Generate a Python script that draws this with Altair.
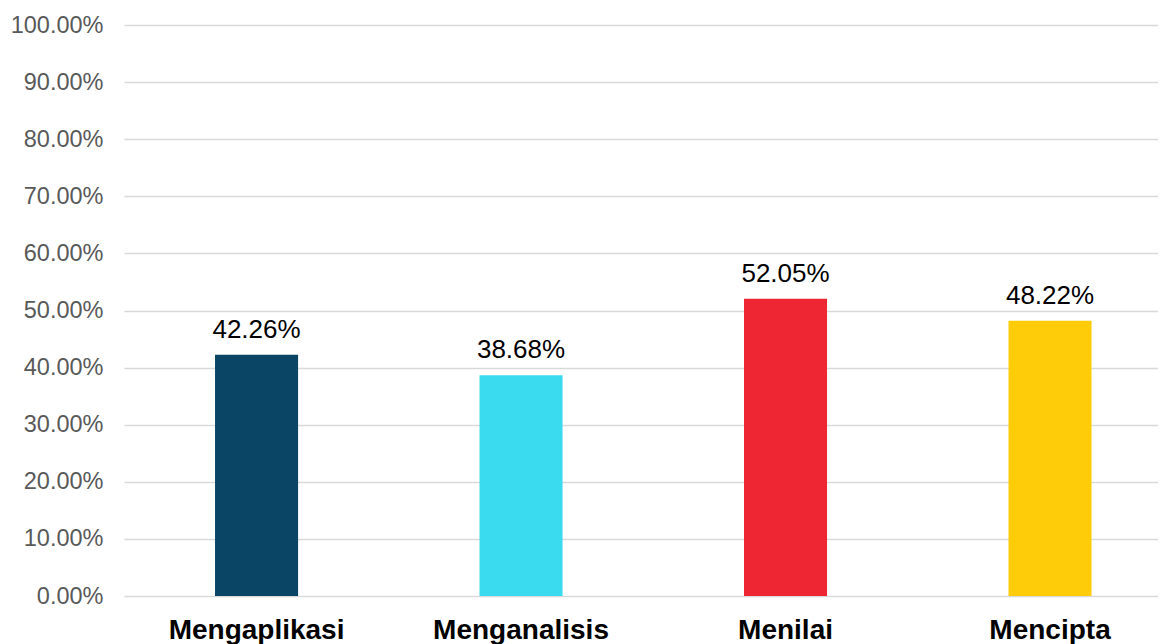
import altair as alt
import pandas as pd

categories = ["Mengaplikasi", "Menganalisis", "Menilai", "Mencipta"]
values = [0.4226, 0.3868, 0.5205, 0.4822]
colors = ["#0b4566", "#3adbee", "#ee2532", "#ffcc0a"]
y_ticks = [i / 10 for i in range(11)]

df = pd.DataFrame({"cat": categories, "val": values, "col": colors})

x = alt.X(
    "cat:N",
    sort=categories,
    title=None,
    scale=alt.Scale(paddingInner=0.686, paddingOuter=0.2977, align=0.578),
    axis=alt.Axis(
        labelAngle=0,
        labelFont="Liberation Sans",
        labelFontSize=28,
        labelFontWeight="bold",
        labelColor="#000000",
        labelPadding=20,
        ticks=False,
        domain=False,
        grid=False,
    ),
)
y = alt.Y(
    "val:Q",
    title=None,
    scale=alt.Scale(domain=[0, 1], nice=False),
    axis=alt.Axis(
        values=y_ticks,
        format=".2%",
        labelFont="Liberation Sans",
        labelFontSize=23.5,
        labelColor="#595959",
        labelPadding=21,
        ticks=False,
        tickSize=0,
        domain=False,
        grid=True,
        gridColor="#d9d9d9",
        gridWidth=1.6,
    ),
)

base = alt.Chart(df)
bars = base.mark_bar().encode(
    x=x, y=y, color=alt.Color("col:N", scale=None)
)
labels = base.mark_text(
    font="Liberation Sans", fontSize=26, color="#000000", dy=-17, baseline="alphabetic"
).encode(
    x=x,
    y=y,
    text=alt.Text("val:Q", format=".2%"),
)

chart = (
    alt.layer(bars, labels)
    .properties(
        width=1034,
        height=571,
        autosize=alt.AutoSizeParams(type="none"),
        padding={"left": 116, "top": 17, "right": 0, "bottom": 48},
    )
    .configure(background="#ffffff")
    .configure_view(stroke="transparent", strokeWidth=0)
)

chart.save("out.html", embed_options={"renderer": "svg", "actions": False})
